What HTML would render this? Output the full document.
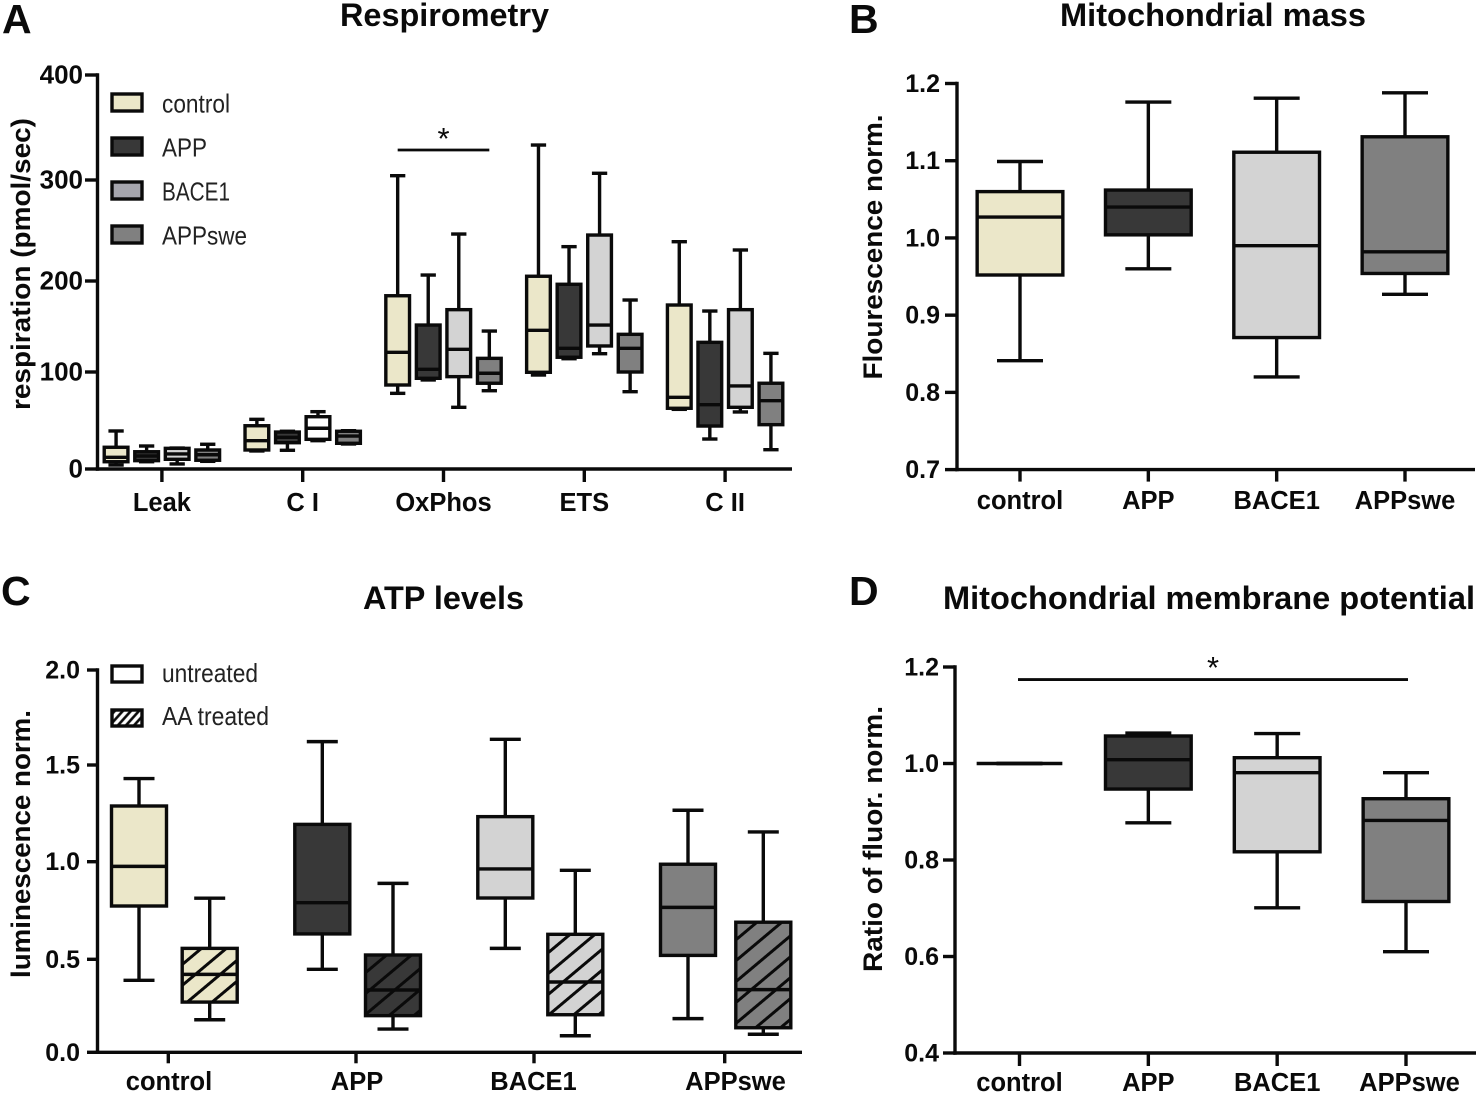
<!DOCTYPE html>
<html lang="en">
<head>
<meta charset="utf-8">
<title>Mitochondrial function box plots</title>
<style>
html,body{margin:0;padding:0;background:#fff;width:1478px;height:1094px;overflow:hidden}
svg{display:block;font-family:"Liberation Sans",sans-serif;fill:#0a0a0a}
.panel-letter{font-size:41px;font-weight:700}
.title{font-size:32px;font-weight:700}
.ytitle{font-size:27px;font-weight:700}
.tick{font-size:25px;font-weight:700}
.tick-wide{font-size:26px}
.xlabel{font-size:25.5px;font-weight:700}
.legend{font-size:26px;fill:#222}
.star{font-size:31px}
</style>
</head>
<body>
<svg id="figure" xmlns="http://www.w3.org/2000/svg" width="1478" height="1094" viewBox="0 0 1478 1094">
<defs>
<pattern id="hatch-control" patternUnits="userSpaceOnUse" width="16" height="16" patternTransform="rotate(-40)"><rect width="16" height="16" fill="#ebe7c9"/><line x1="0" y1="8" x2="16" y2="8" stroke="#0a0a0a" stroke-width="3"/></pattern>
<pattern id="hatch-app" patternUnits="userSpaceOnUse" width="16" height="16" patternTransform="rotate(-40) translate(0,-3.9)"><rect width="16" height="16" fill="#383838"/><line x1="0" y1="8" x2="16" y2="8" stroke="#0a0a0a" stroke-width="3"/></pattern>
<pattern id="hatch-bace1" patternUnits="userSpaceOnUse" width="16" height="16" patternTransform="rotate(-40) translate(0,2.2)"><rect width="16" height="16" fill="#d3d3d3"/><line x1="0" y1="8" x2="16" y2="8" stroke="#0a0a0a" stroke-width="3"/></pattern>
<pattern id="hatch-appswe" patternUnits="userSpaceOnUse" width="16" height="16" patternTransform="rotate(-40) translate(0,1)"><rect width="16" height="16" fill="#808080"/><line x1="0" y1="8" x2="16" y2="8" stroke="#0a0a0a" stroke-width="3"/></pattern>
<pattern id="hatch-legend" patternUnits="userSpaceOnUse" width="6" height="6" patternTransform="rotate(-48)"><rect width="6" height="6" fill="#fff"/><line x1="0" y1="3" x2="6" y2="3" stroke="#0a0a0a" stroke-width="2.6"/></pattern>
</defs>

<text class="panel-letter" x="2" y="33">A</text>
<text class="panel-letter" x="849" y="33">B</text>
<text class="panel-letter" x="1" y="605">C</text>
<text class="panel-letter" x="849" y="605">D</text>

<text class="title" x="340" y="26" textLength="209" lengthAdjust="spacingAndGlyphs">Respirometry</text>
<text class="title" x="1060" y="26" textLength="306" lengthAdjust="spacingAndGlyphs">Mitochondrial mass</text>
<text class="title" x="363" y="609" textLength="161" lengthAdjust="spacingAndGlyphs">ATP levels</text>
<text class="title" x="943" y="609" textLength="532" lengthAdjust="spacingAndGlyphs">Mitochondrial membrane potential</text>

<text class="ytitle" transform="translate(30,264) rotate(-90)" text-anchor="middle" textLength="292" lengthAdjust="spacingAndGlyphs">respiration (pmol/sec)</text>
<text class="ytitle" transform="translate(882,247) rotate(-90)" text-anchor="middle" textLength="265" lengthAdjust="spacingAndGlyphs">Flourescence norm.</text>
<text class="ytitle" transform="translate(30,844) rotate(-90)" text-anchor="middle" textLength="268" lengthAdjust="spacingAndGlyphs">luminescence norm.</text>
<text class="ytitle" transform="translate(882,839) rotate(-90)" text-anchor="middle" textLength="266" lengthAdjust="spacingAndGlyphs">Ratio of fluor. norm.</text>

<g>
<g><rect x="112" y="94" width="30" height="17" fill="#ebe7c9" stroke="#0a0a0a" stroke-width="3.4"/><text class="legend" x="162" y="112.5" textLength="68" lengthAdjust="spacingAndGlyphs">control</text></g>
<g><rect x="112" y="138" width="30" height="17" fill="#383838" stroke="#0a0a0a" stroke-width="3.4"/><text class="legend" x="162" y="156.5" textLength="45" lengthAdjust="spacingAndGlyphs">APP</text></g>
<g><rect x="112" y="182" width="30" height="17" fill="#a5a5ad" stroke="#0a0a0a" stroke-width="3.4"/><text class="legend" x="162" y="200.5" textLength="68" lengthAdjust="spacingAndGlyphs">BACE1</text></g>
<g><rect x="112" y="226" width="30" height="17" fill="#808080" stroke="#0a0a0a" stroke-width="3.4"/><text class="legend" x="162" y="244.5" textLength="85" lengthAdjust="spacingAndGlyphs">APPswe</text></g>
</g>
<g>
<g><rect x="112" y="666" width="30" height="16" fill="#fff" stroke="#0a0a0a" stroke-width="3.4"/><text class="legend" x="162" y="682" textLength="96" lengthAdjust="spacingAndGlyphs">untreated</text></g>
<g><rect x="112" y="710" width="30" height="16" fill="url(#hatch-legend)" stroke="#0a0a0a" stroke-width="3.4"/><text class="legend" x="162" y="725" textLength="107" lengthAdjust="spacingAndGlyphs">AA treated</text></g>
</g>

<g id="panel-a"></g>
<g id="panel-b"></g>
<g id="panel-c"></g>
<g id="panel-d"></g>
</svg>

<script>
// Each box is [whisker high, upper quartile, median, lower quartile, whisker low].
const respCategories = ['Leak', 'C I', 'OxPhos', 'ETS', 'C II'];
const respTicks = [0, 100, 200, 300, 400];
const respControl = [[39.2, 22.4, 12.1, 7.5, 4.1], [51.2, 44.6, 29.2, 19.6, 18.6], [304.1, 183.8, 121.6, 86.6, 78], [333.3, 204.7, 145.8, 99.7, 96.9], [238.9, 173.6, 73.9, 62.6, 61.5]];
const respApp = [[23.7, 17.8, 13.4, 8.6, 7.5], [38.9, 38.1, 32.7, 27.1, 19.3], [205.9, 151.6, 103, 93.5, 91.8], [234, 196.4, 126, 116.2, 114.6], [167, 132.6, 66.3, 44.3, 30.9]];
const respBace1 = [[21.6, 21.3, 15.5, 10, 5.2], [59.1, 53.9, 42, 30.6, 29.2], [246.5, 168.5, 124.9, 95.2, 63.6], [306.4, 245.5, 151.6, 128.6, 120.1], [230.7, 168.5, 85.6, 63.6, 58.8]];
const respAppswe = [[25.5, 19.6, 14.7, 9, 7.9], [39.5, 38.9, 34, 26.5, 25.8], [145, 115, 98.7, 88.4, 80.7], [179.1, 141.4, 126, 100, 79.7], [120.5, 88.4, 70.4, 45.7, 19.9]];
const respSignificance = [328.6];

const massCategories = ['control', 'APP', 'BACE1', 'APPswe'];
const massTicks = [0.7, 0.8, 0.9, 1.0, 1.1, 1.2];
const massBoxes = [[1.099, 1.06, 1.027, 0.952, 0.841], [1.176, 1.062, 1.04, 1.004, 0.96], [1.181, 1.111, 0.99, 0.871, 0.82], [1.188, 1.131, 0.982, 0.954, 0.927]];

const atpCategories = ['control', 'APP', 'BACE1', 'APPswe'];
const atpTicks = [0, 0.5, 1.0, 1.5, 2.0];
const atpUntreated = [[1.43, 1.288, 0.976, 0.773, 0.387], [1.623, 1.193, 0.79, 0.63, 0.446], [1.635, 1.233, 0.963, 0.814, 0.556], [1.266, 0.987, 0.766, 0.52, 0.181]];
const atpTreated = [[0.813, 0.556, 0.419, 0.27, 0.175], [0.889, 0.522, 0.335, 0.197, 0.125], [0.956, 0.628, 0.378, 0.202, 0.089], [1.154, 0.69, 0.337, 0.132, 0.097]];

const potentialCategories = ['control', 'APP', 'BACE1', 'APPswe'];
const potentialTicks = [0.4, 0.6, 0.8, 1.0, 1.2];
const potentialBoxes = [[1, 1, 1, 1, 1], [1.063, 1.057, 1.008, 0.947, 0.877], [1.062, 1.012, 0.981, 0.817, 0.701], [0.981, 0.927, 0.882, 0.714, 0.61]];
const potentialSignificance = [1.174];

const NS = 'http://www.w3.org/2000/svg';
const INK = '#0a0a0a';
const LINE = 3.4;

function make(tag, parent, attrs) {
  const node = document.createElementNS(NS, tag);
  for (const key in attrs) node.setAttribute(key, attrs[key]);
  parent.appendChild(node);
  return node;
}

// Piecewise-linear scale: the source axes are not perfectly even.
function axisScale(domain, range) {
  return function (v) {
    let i = 0;
    while (i < domain.length - 2 && v > domain[i + 1]) i++;
    const t = (v - domain[i]) / (domain[i + 1] - domain[i]);
    return range[i] + t * (range[i + 1] - range[i]);
  };
}

function slug(s) {
  return String(s).toLowerCase().replace(/[^a-z0-9]+/g, '-');
}

function drawAxes(root, o) {
  const yAxis = make('line', root, { x1: o.x0, x2: o.x0, y1: o.yTop - 1.7, y2: o.y0 + 1.7, stroke: INK, 'stroke-width': LINE });
  
  
  const xAxis = make('line', root, { x1: o.x0 - 1.7, x2: o.xEnd, y1: o.y0, y2: o.y0, stroke: INK, 'stroke-width': LINE });
  
  
  o.ticks.forEach(function (t) {
    const y = o.yScale(t);
    const mark = make('line', root, { x1: o.x0 - o.yTickLen, x2: o.x0, y1: y, y2: y, stroke: INK, 'stroke-width': LINE });
    
    
    const label = make('text', root, { class: o.tickClass, x: o.x0 - o.yTickLen - o.yLabelGap, y: y + 8.5, 'text-anchor': 'end' });
    
    
    label.textContent = o.format(t);
  });
  o.categories.forEach(function (c, i) {
    const x = o.tickX(i);
    const mark = make('line', root, { x1: x, x2: x, y1: o.y0, y2: o.y0 + o.xTickLen, stroke: INK, 'stroke-width': LINE });
    
    
    const label = make('text', root, { class: 'xlabel', x: o.labelX(i), y: o.labelY, 'text-anchor': 'middle' });
    
    
    label.textContent = c;
  });
}

function drawBox(root, name, x, stats, yScale, boxW, capW, fill) {
  const g = make('g', root, {});
  
  
  const yHigh = yScale(stats[0]), yQ3 = yScale(stats[1]), yMed = yScale(stats[2]), yQ1 = yScale(stats[3]), yLow = yScale(stats[4]);
  const stroke = { stroke: INK, 'stroke-width': LINE };
  const whisker = make('line', g, Object.assign({ x1: x, x2: x, y1: yHigh, y2: yLow }, stroke));
  
  
  const capHigh = make('line', g, Object.assign({ x1: x - capW / 2, x2: x + capW / 2, y1: yHigh, y2: yHigh }, stroke));
  
  
  const capLow = make('line', g, Object.assign({ x1: x - capW / 2, x2: x + capW / 2, y1: yLow, y2: yLow }, stroke));
  
  
  const rect = make('rect', g, Object.assign({ x: x - boxW / 2, y: yQ3, width: boxW, height: Math.max(0, yQ1 - yQ3), fill: fill }, stroke));
  
  
  const median = make('line', g, Object.assign({ x1: x - boxW / 2, x2: x + boxW / 2, y1: yMed, y2: yMed }, stroke));
  
  
}

function drawSignificance(root, name, x1, x2, y, starY) {
  const bar = make('line', root, { x1: x1, x2: x2, y1: y, y2: y, stroke: INK, 'stroke-width': 2.8 });
  
  
  const star = make('text', root, { class: 'star', x: (x1 + x2) / 2, y: starY, 'text-anchor': 'middle' });
  
  
  star.textContent = '*';
}

const solidFills = ['#ebe7c9', '#383838', '#d3d3d3', '#808080'];
const hatchFills = ['url(#hatch-control)', 'url(#hatch-app)', 'url(#hatch-bace1)', 'url(#hatch-appswe)'];
const seriesNames = ['control', 'app', 'bace1', 'appswe'];

// Panel A
(function () {
  const root = document.getElementById('panel-a');
  const yScale = axisScale(respTicks, [469, 372, 281, 180, 75]);
  const groupX = axisScale([0, 4], [161.9, 725.1]);
  const seriesX = function (g, s) { return groupX(g) + (s - 1.5) * 30.55; };
  drawAxes(root, { x0: 97.5, y0: 469, yTop: 75, xEnd: 792, ticks: respTicks, yScale: yScale, yTickLen: 12.5, yLabelGap: 2, xTickLen: 13, tickClass: 'tick tick-wide',
    categories: respCategories, tickX: groupX, labelX: groupX, labelY: 511, format: function (t) { return String(t); } });
  [respControl, respApp, respBace1, respAppswe].forEach(function (series, s) {
    series.forEach(function (stats, g) {
      const fill = (g === 1 && s === 2) ? '#ffffff' : solidFills[s];
      drawBox(root, slug(respCategories[g]) + '-' + seriesNames[s], seriesX(g, s), stats, yScale, 23.7, 15.3, fill);
    });
  });
  drawSignificance(root, 'oxphos', seriesX(2, 0), seriesX(2, 3), yScale(respSignificance[0]), 149);
})();

// Panel B
(function () {
  const root = document.getElementById('panel-b');
  const yScale = axisScale([0.7, 1.2], [469.6, 83.5]);
  const x = axisScale([0, 3], [1020, 1405]);
  drawAxes(root, { x0: 957, y0: 469.6, yTop: 83.5, xEnd: 1475, ticks: massTicks, yScale: yScale, yTickLen: 12, yLabelGap: 5, xTickLen: 12, tickClass: 'tick',
    categories: massCategories, tickX: x, labelX: x, labelY: 509, format: function (t) { return t.toFixed(1); } });
  massBoxes.forEach(function (stats, i) {
    drawBox(root, seriesNames[i], x(i), stats, yScale, 85.7, 46, solidFills[i]);
  });
})();

// Panel C
(function () {
  const root = document.getElementById('panel-c');
  const yScale = axisScale(atpTicks, [1052.3, 959.3, 861.7, 765, 670]);
  const tickX = axisScale([0, 1, 2, 3], [168.3, 356, 534, 724.7]);
  const labelX = axisScale([0, 1, 2, 3], [169, 357, 533.5, 735.5]);
  const untreatedX = axisScale([0, 1, 2, 3], [139, 322.3, 505.3, 688]);
  const treatedX = axisScale([0, 1, 2, 3], [209.7, 393, 575.3, 763.3]);
  drawAxes(root, { x0: 97.5, y0: 1052.3, yTop: 670, xEnd: 802, ticks: atpTicks, yScale: yScale, yTickLen: 10.5, yLabelGap: 7, xTickLen: 11, tickClass: 'tick',
    categories: atpCategories, tickX: tickX, labelX: labelX, labelY: 1090, format: function (t) { return t.toFixed(1); } });
  atpUntreated.forEach(function (stats, i) {
    drawBox(root, 'untreated-' + seriesNames[i], untreatedX(i), stats, yScale, 55, 31, solidFills[i]);
  });
  atpTreated.forEach(function (stats, i) {
    drawBox(root, 'aa-treated-' + seriesNames[i], treatedX(i), stats, yScale, 55, 31, hatchFills[i]);
  });
})();

// Panel D
(function () {
  const root = document.getElementById('panel-d');
  const yScale = axisScale([0.4, 1.2], [1053, 667]);
  const x = axisScale([0, 3], [1019.5, 1406]);
  drawAxes(root, { x0: 955, y0: 1053, yTop: 667, xEnd: 1476, ticks: potentialTicks, yScale: yScale, yTickLen: 12, yLabelGap: 4, xTickLen: 13, tickClass: 'tick',
    categories: potentialCategories, tickX: x, labelX: function (i) { return x(i) + (i === 3 ? 3.5 : 0); }, labelY: 1091, format: function (t) { return t.toFixed(1); } });
  potentialBoxes.forEach(function (stats, i) {
    drawBox(root, seriesNames[i], x(i), stats, yScale, 85.7, 46, solidFills[i]);
  });
  drawSignificance(root, 'all-groups', x(0) - 1.5, x(3) + 2, yScale(potentialSignificance[0]), 678);
})();
</script>
</body>
</html>
